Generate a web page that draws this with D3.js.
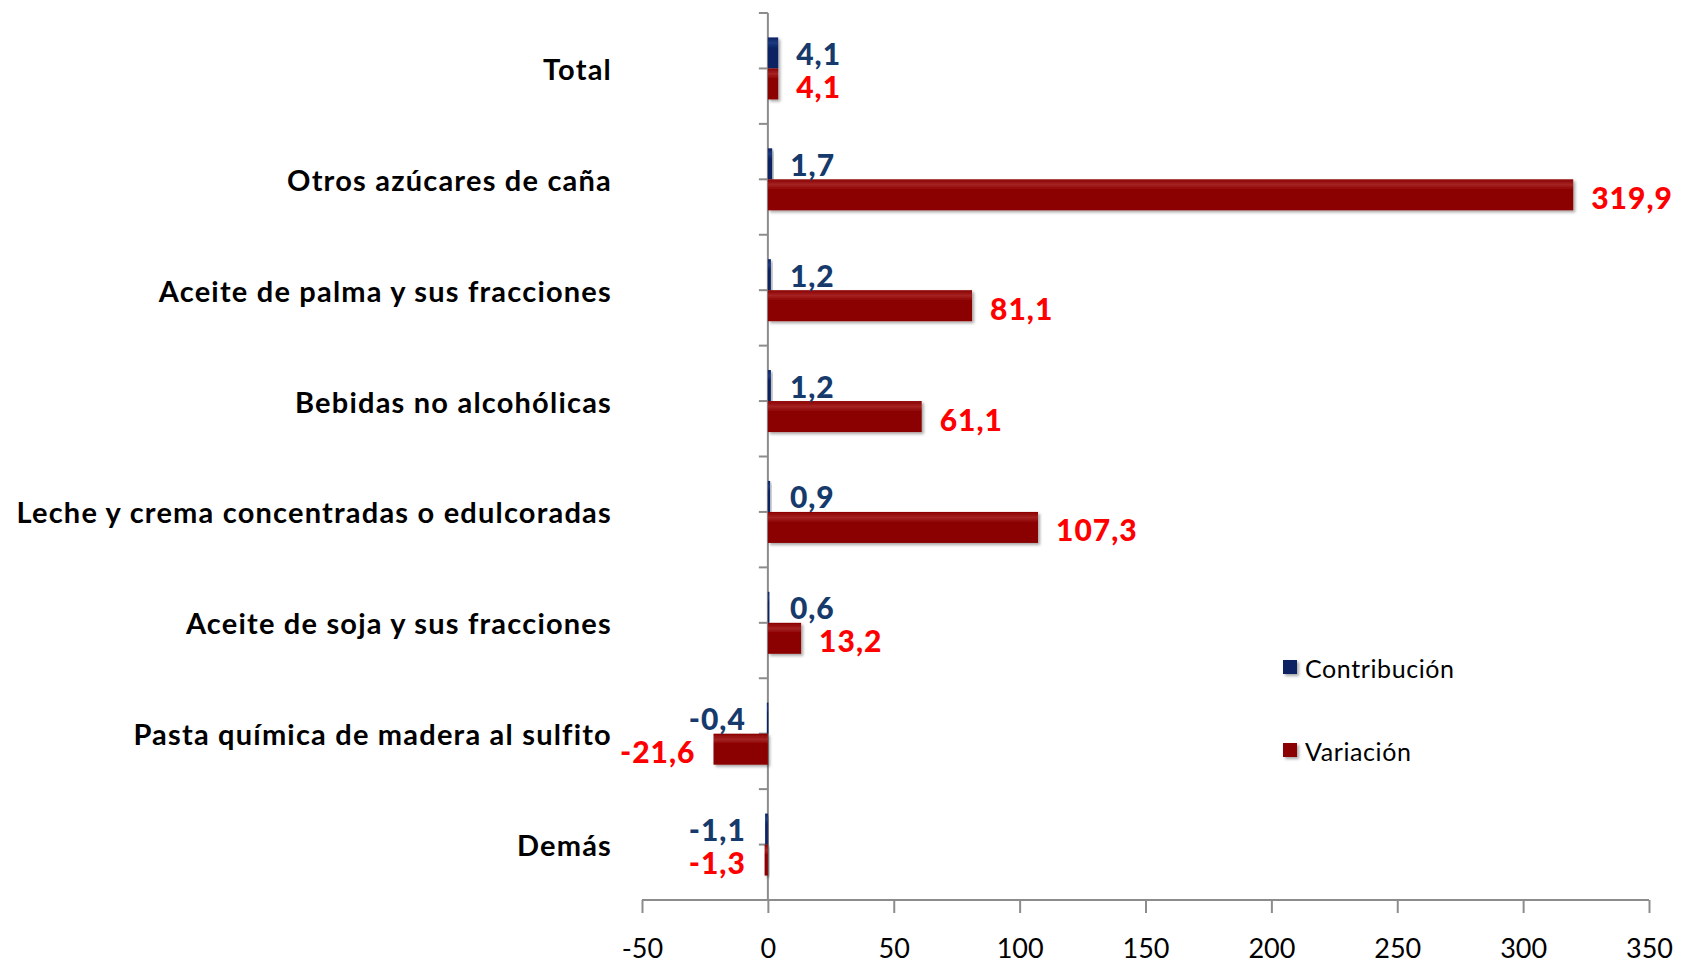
<!DOCTYPE html>
<html><head><meta charset="utf-8">
<script src="https://cdn.jsdelivr.net/npm/d3@7/dist/d3.min.js"></script>
<style>html,body{margin:0;padding:0;background:#fff;}svg{display:block;}</style>
</head><body>
<svg id="chart" width="1690" height="963"></svg>
<script>
const categories = ["Total","Otros azúcares de caña","Aceite de palma y sus fracciones","Bebidas no alcohólicas","Leche y crema concentradas o edulcoradas","Aceite de soja y sus fracciones","Pasta química de madera al sulfito","Demás"];
const contribucion = [4.1, 1.7, 1.2, 1.2, 0.9, 0.6, -0.4, -1.1];
const variacion = [4.1, 319.9, 81.1, 61.1, 107.3, 13.2, -21.6, -1.3];
const xTicks = [-50, 0, 50, 100, 150, 200, 250, 300, 350];
const seriesNames = ["Contribución", "Variación"];

const W = 1690, H = 963;
const svg = d3.select("#chart");
const defs = svg.append("defs");
const sh = defs.append("filter").attr("id","shadow").attr("x","-20%").attr("y","-30%").attr("width","160%").attr("height","180%");
sh.append("feDropShadow").attr("dx",2).attr("dy",2).attr("stdDeviation",1.6).attr("flood-color","#000").attr("flood-opacity",0.35);
function grad(id, base, light){
  const g = defs.append("linearGradient").attr("id",id).attr("x1",0).attr("y1",0).attr("x2",0).attr("y2",1);
  g.append("stop").attr("offset","0%").attr("stop-color",base);
  g.append("stop").attr("offset","18%").attr("stop-color",light);
  g.append("stop").attr("offset","34%").attr("stop-color",base);
  g.append("stop").attr("offset","100%").attr("stop-color",base);
}
grad("gRed","#8B0000","#a52323");
grad("gBlue","#0b2363","#1f3a80");

const x = d3.scaleLinear().domain([-50,350]).range([642,1649]);
const y = d3.scaleBand().domain(categories).range([13,900]).padding(0);
const barH = 31;
const fontFam = "Lato, 'Open Sans', sans-serif";

const axisColor = "#8c8c8c";
svg.append("line").attr("x1",x(0)).attr("x2",x(0)).attr("y1",y.range()[0]).attr("y2",y.range()[1])
  .attr("stroke",axisColor).attr("stroke-width",2);
const yTickPos = [];
categories.forEach(c => { yTickPos.push(y(c)); yTickPos.push(y(c)+y.bandwidth()/2); });
svg.selectAll(".ytick").data(yTickPos).enter().append("line")
  .attr("x1",x(0)-9).attr("x2",x(0)).attr("y1",d=>d).attr("y2",d=>d)
  .attr("stroke",axisColor).attr("stroke-width",2);

const xAxis = d3.axisBottom(x).tickValues(xTicks).tickSize(13).tickFormat(d3.format("d"));
const gx = svg.append("g").attr("transform",`translate(0,${y.range()[1]})`).call(xAxis);
gx.select(".domain").attr("stroke",axisColor).attr("stroke-width",2).attr("d",`M${x(-50)},0H${x(350)}`);
gx.selectAll(".tick line").attr("stroke",axisColor).attr("stroke-width",2);
gx.selectAll(".tick text").attr("font-family",fontFam).attr("font-size",27).attr("fill","#000").attr("dy","1.55em")
  .text(d => d < 0 ? "-" + Math.abs(d) : d);

const data = categories.map((c,i)=>({c, con: contribucion[i], vari: variacion[i]}));
const fmt = v => (v<0?"-":"") + Math.abs(v).toFixed(1).replace(".",",");

function drawBars(key, offset, fill, cls){
  svg.selectAll("."+cls).data(data).enter().append("rect").attr("class",cls)
    .attr("x",d=>Math.min(x(0),x(d[key])))
    .attr("width",d=>Math.max(1.5,Math.abs(x(d[key])-x(0))))
    .attr("y",d=>y(d.c)+y.bandwidth()/2+offset)
    .attr("height",barH)
    .attr("fill",fill).attr("filter","url(#shadow)");
}
drawBars("con",-barH,"url(#gBlue)","bcon");
drawBars("vari",0,"url(#gRed)","bvar");

const gap = 18;
function drawLabels(key, offset, color){
  svg.selectAll(null).data(data).enter().append("text")
    .attr("font-family",fontFam).attr("font-weight","900").attr("font-size",30).attr("fill",color)
    .attr("letter-spacing",1)
    .attr("dominant-baseline","central")
    .attr("y",d=>y(d.c)+y.bandwidth()/2+offset)
    .attr("text-anchor",d=>d[key]<0?"end":"start")
    .text(d=>fmt(d[key]))
    .each(function(d){
      const el = d3.select(this);
      if (d[key] < 0) { el.attr("x", Math.min(x(d[key]), x(0)-4) - gap); }
      else {
        let px = Math.max(x(d[key]), x(0)+4) + gap;
        const w = this.getComputedTextLength();
        if (px + w > W - 4) px = W - 4 - w;
        el.attr("x", px);
      }
    });
}
drawLabels("con",-barH/2,"#163a6b");
drawLabels("vari",barH/2+2,"#ff0000");

svg.selectAll(".cat").data(categories).enter().append("text")
  .attr("x",612).attr("y",d=>y(d)+y.bandwidth()/2)
  .attr("text-anchor","end").attr("dominant-baseline","central")
  .attr("font-family",fontFam).attr("font-weight","bold").attr("font-size",29).attr("letter-spacing",1.2).attr("fill","#000")
  .text(d=>d);

const legColors = ["#0b2363","#8B0000"];
const leg = svg.selectAll(".leg").data(seriesNames).enter().append("g")
  .attr("transform",(d,i)=>`translate(1283,${660+i*83})`);
leg.append("rect").attr("width",14).attr("height",14).attr("fill",(d,i)=>legColors[i]).attr("filter","url(#shadow)");
leg.append("text").attr("x",22).attr("y",8).attr("dominant-baseline","central")
  .attr("font-family",fontFam).attr("font-size",25).attr("letter-spacing",0.6).attr("fill","#000").text(d=>d);
</script>
</body></html>
